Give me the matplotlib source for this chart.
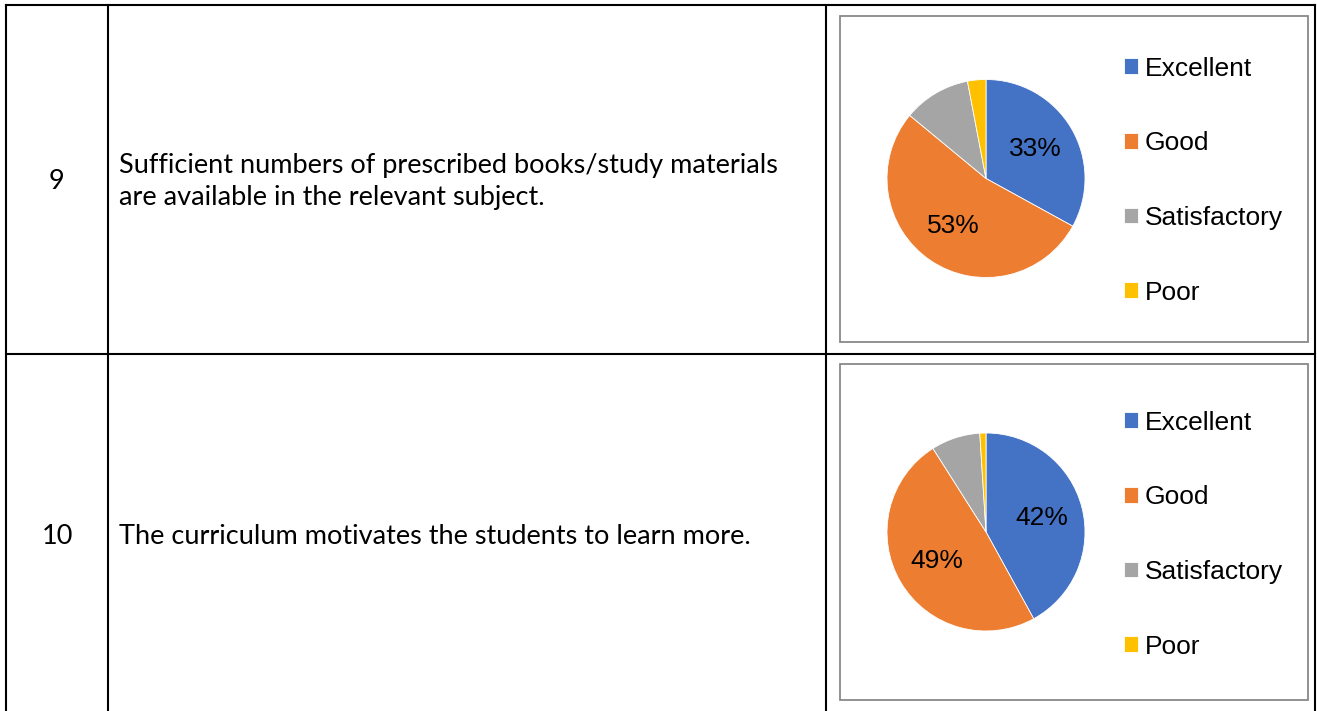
import matplotlib.pyplot as plt
from matplotlib.patches import Rectangle

# data
categories = ['Excellent', 'Good', 'Satisfactory', 'Poor']
row_numbers = ['9', '10']
statements = ['Sufficient numbers of prescribed books/study materials\nare available in the relevant subject.',
              'The curriculum motivates the students to learn more.']
values_q9 = [33, 53, 11, 3]
values_q10 = [42, 49, 8, 1]
colors = ['#4472C4', '#ED7D31', '#A5A5A5', '#FFC000']

W, H = 1317, 711
fig = plt.figure(figsize=(W / 100, H / 100), dpi=100)

# background axes in pixel coords for the table grid
bg = fig.add_axes([0, 0, 1, 1])
bg.set_xlim(0, W)
bg.set_ylim(H, 0)
bg.axis('off')

lw = 1.5
bg.plot([6, 1315], [5, 5], color='black', lw=lw)
bg.plot([6, 1315], [354, 354], color='black', lw=lw)
for x in [6, 108, 826, 1315]:
    bg.plot([x, x], [5, H], color='black', lw=lw)

rows = [(5, 354, 16, 342), (354, H, 364, 700)]
for (top, bot, btop, bbot), num, txt in zip(rows, row_numbers, statements):
    mid = (top + bot) / 2 + (0 if num == '9' else 2)
    bg.text(57, mid + 2, num, ha='center', va='center', fontsize=19.5, family='Lato')
    bg.text(119, mid + 2, txt, ha='left', va='center', fontsize=19.5, family='Lato', linespacing=1.32)
    bg.add_patch(Rectangle((840, btop), 468, bbot - btop, fill=False, edgecolor='#898989', lw=1.3))


def draw_pie(vals, cy, legend_top):
    r = 99
    ax = fig.add_axes([(986 - r) / W, (H - cy - r) / H, 2 * r / W, 2 * r / H])
    wedges, texts, autotexts = ax.pie(
        vals, colors=colors, startangle=90, counterclock=False, radius=1,
        autopct=lambda p: f'{p:.0f}%' if p > 20 else '', pctdistance=0.58,
        wedgeprops=dict(edgecolor='white', linewidth=0.6),
        textprops=dict(fontsize=19, family='Liberation Sans', color='black'))
    ax.set_xlim(-1, 1)
    ax.set_ylim(-1, 1)
    ax.set_aspect('equal')
    fig.legend(wedges, categories, loc='upper left',
               bbox_to_anchor=(1124 / W, (H - legend_top) / H),
               frameon=False, prop=dict(family='Liberation Sans', size=19),
               handlelength=0.53, handleheight=0.53, handletextpad=0.25,
               labelspacing=1.92, borderaxespad=0, borderpad=0)


draw_pie(values_q9, 178.5, 56.5)
draw_pie(values_q10, 532, 410.5)

fig.savefig('out.png', dpi=100)
